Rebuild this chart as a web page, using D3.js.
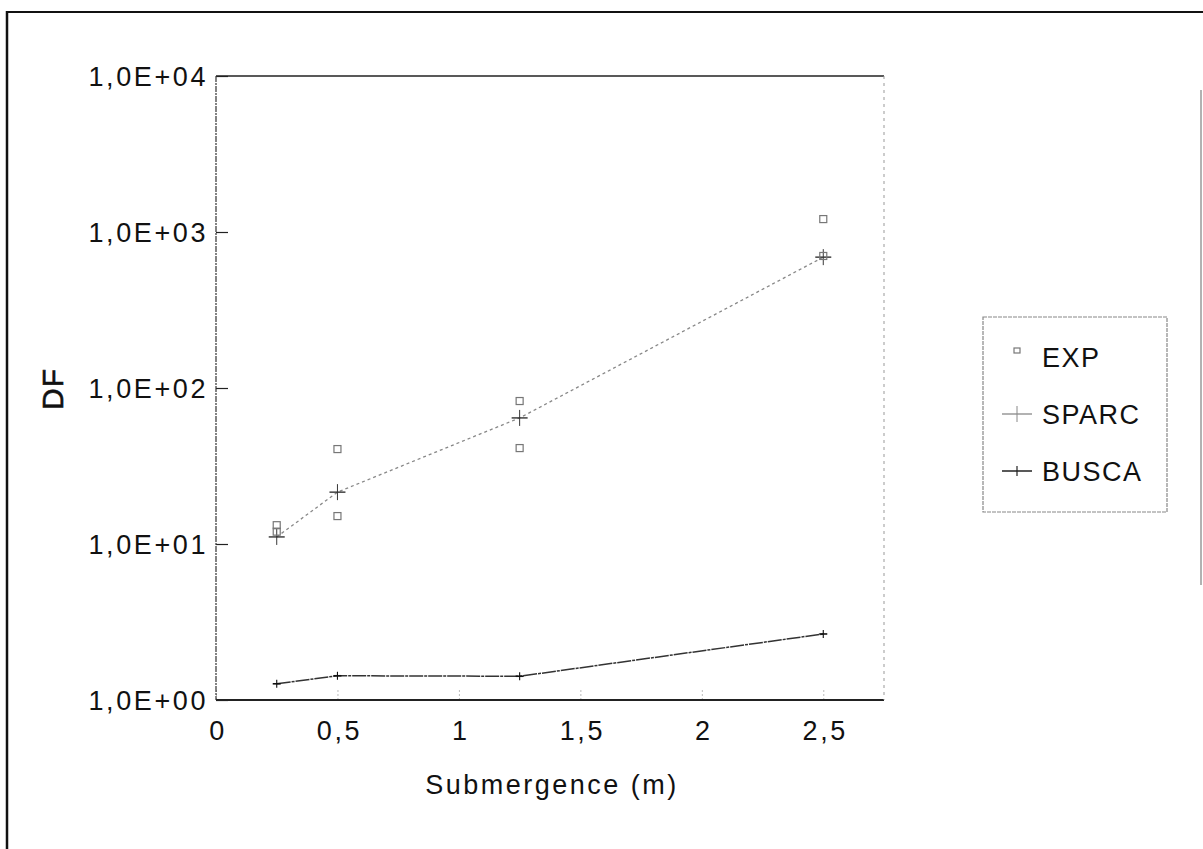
<!DOCTYPE html>
<html>
<head>
<meta charset="utf-8">
<script src="https://cdn.jsdelivr.net/npm/d3@7"></script>
<style>
    body { margin: 0; background: #fff; }
    svg { display: block; font-family: 'Liberation Sans', Arial, sans-serif; }
    .tick-label { font-size: 27px; letter-spacing: 2.6px; fill: #111; }
</style>
</head>
<body>
<svg id="chart"></svg>
<script>
const WIDTH = 1203
const HEIGHT = 849

// x positions (m)
const submergence = [0.25, 0.5, 1.25, 2.5]

// experimental points, two per submergence
const expX = [0.25, 0.25, 0.5, 0.5, 1.25, 1.25, 2.5, 2.5]
const expDF = [13.2, 12.0, 40.6, 15.1, 82.5, 41.2, 1210, 702]

const sparcDF = [11.1, 21.5, 64.3, 690]
const buscaDF = [1.27, 1.43, 1.42, 2.65]

const yTicks = [1, 10, 100, 1000, 10000]
const xTicks = [0, 0.5, 1, 1.5, 2, 2.5]
const seriesNames = ['EXP', 'SPARC', 'BUSCA']

const svg = d3.select('#chart')
    .attr('width', WIDTH)
    .attr('height', HEIGHT)

const x = d3.scaleLinear().domain([0, 2.75]).range([216, 884])
const y = d3.scaleLog().domain([1, 10000]).range([700, 76])

const [plotLeft, plotRight] = x.range()
const [plotBottom, plotTop] = y.range()

// outer frame (only partly visible in the scan)
svg.append('line')
    .attr('x1', 7).attr('x2', 7).attr('y1', 11).attr('y2', HEIGHT)
    .attr('stroke', '#111').attr('stroke-width', 2.5)
svg.append('line')
    .attr('x1', 6).attr('x2', 1203).attr('y1', 12).attr('y2', 12)
    .attr('stroke', '#111').attr('stroke-width', 2)
svg.append('line')
    .attr('x1', 1201).attr('x2', 1201).attr('y1', 90).attr('y2', 585)
    .attr('stroke', '#999').attr('stroke-width', 1.5)

// y axis
const yAxis = d3.axisLeft(y)
    .tickValues(yTicks)
    .tickSize(-12)
    .tickPadding(8)
    .tickFormat(d => `1,0E+${String(Math.round(Math.log10(d))).padStart(2, '0')}`)

const yAxisGroup = svg.append('g')
    .attr('transform', `translate(${plotLeft},0)`)
    .call(yAxis)
yAxisGroup.select('.domain').remove()
yAxisGroup.selectAll('line').attr('stroke', '#222').attr('stroke-width', 1.2)
yAxisGroup.selectAll('text')
    .attr('class', 'tick-label')
    .attr('dy', '0.36em')
    .attr('font-family', null)
    .attr('font-size', null)

// x axis
const xAxis = d3.axisBottom(x)
    .tickValues(xTicks)
    .tickSize(-10)
    .tickPadding(21)
    .tickFormat(d => String(d).replace('.', ','))

const xAxisGroup = svg.append('g')
    .attr('transform', `translate(0,${plotBottom})`)
    .call(xAxis)
xAxisGroup.select('.domain').remove()
xAxisGroup.selectAll('line').attr('stroke', '#bbb').attr('stroke-dasharray', '2,2')
xAxisGroup.selectAll('text')
    .attr('class', 'tick-label')
    .attr('dx', '1.5px')
    .attr('font-family', null)
    .attr('font-size', null)

// plot frame
const frame = svg.append('g').attr('fill', 'none')
frame.append('line')
    .attr('x1', plotLeft).attr('x2', plotRight).attr('y1', plotTop).attr('y2', plotTop)
    .attr('stroke', '#222').attr('stroke-width', 1.5)
frame.append('line')
    .attr('x1', plotLeft).attr('x2', plotRight).attr('y1', plotBottom).attr('y2', plotBottom)
    .attr('stroke', '#222').attr('stroke-width', 1.8)
frame.append('line')
    .attr('x1', plotLeft).attr('x2', plotLeft).attr('y1', plotTop).attr('y2', plotBottom)
    .attr('stroke', '#333').attr('stroke-width', 1.2).attr('stroke-dasharray', '6,1,2,1')
frame.append('line')
    .attr('x1', plotRight).attr('x2', plotRight).attr('y1', plotTop).attr('y2', plotBottom)
    .attr('stroke', '#999').attr('stroke-width', 1).attr('stroke-dasharray', '3,4')

// axis titles
svg.append('text')
    .attr('x', (plotLeft + plotRight) / 2 + 2)
    .attr('y', 794)
    .attr('text-anchor', 'middle')
    .attr('font-size', 27)
    .attr('letter-spacing', 2.5)
    .attr('fill', '#111')
    .text('Submergence (m)')

svg.append('text')
    .attr('transform', `translate(63,${(plotTop + plotBottom) / 2 + 1}) rotate(-90)`)
    .attr('text-anchor', 'middle')
    .attr('font-size', 30)
    .attr('letter-spacing', 1)
    .attr('stroke', '#111')
    .attr('stroke-width', 0.6)
    .attr('fill', '#111')
    .text('DF')

// series lines
const line = d3.line()
    .x(d => x(d[0]))
    .y(d => y(d[1]))

const sparcData = d3.zip(submergence, sparcDF)
const buscaData = d3.zip(submergence, buscaDF)
const expData = d3.zip(expX, expDF)

svg.append('path')
    .datum(sparcData)
    .attr('d', line)
    .attr('fill', 'none')
    .attr('stroke', '#888')
    .attr('stroke-width', 1.3)
    .attr('stroke-dasharray', '3,3')

svg.append('path')
    .datum(buscaData)
    .attr('d', line)
    .attr('fill', 'none')
    .attr('stroke', '#333')
    .attr('stroke-width', 1.5)
    .attr('stroke-dasharray', '14,1,3,1')

function plusMarker(g, cx, cy, w, h, color, width) {
    g.append('line')
        .attr('x1', cx - w / 2).attr('x2', cx + w / 2).attr('y1', cy).attr('y2', cy)
        .attr('stroke', color).attr('stroke-width', width)
    g.append('line')
        .attr('x1', cx).attr('x2', cx).attr('y1', cy - h / 2).attr('y2', cy + h / 2)
        .attr('stroke', color).attr('stroke-width', width * 0.7)
}

const markers = svg.append('g')

sparcData.forEach(d => plusMarker(markers, x(d[0]), y(d[1]), 16, 16, '#333', 1.4))
buscaData.forEach(d => plusMarker(markers, x(d[0]), y(d[1]), 8, 8, '#111', 1.6))

markers.selectAll('rect.exp')
    .data(expData)
    .join('rect')
    .attr('class', 'exp')
    .attr('x', d => x(d[0]) - 3.5)
    .attr('y', d => y(d[1]) - 3.5)
    .attr('width', 7)
    .attr('height', 7)
    .attr('fill', 'none')
    .attr('stroke', '#777')
    .attr('stroke-width', 1.2)

// legend
const legend = svg.append('g').attr('transform', 'translate(983,317)')
legend.append('rect')
    .attr('width', 184)
    .attr('height', 195)
    .attr('fill', 'none')
    .attr('stroke', '#888')
    .attr('stroke-width', 1.2)
    .attr('stroke-dasharray', '4,1')

const legendRows = legend.selectAll('g.row')
    .data(seriesNames)
    .join('g')
    .attr('class', 'row')
    .attr('transform', (d, i) => `translate(0,${50 + i * 57})`)

legendRows.append('text')
    .attr('x', 59)
    .attr('y', 0)
    .attr('font-size', 27)
    .attr('letter-spacing', 1.5)
    .attr('fill', '#111')
    .text(d => d)

legendRows.each(function(d) {
    const row = d3.select(this)
    if (d === 'EXP') {
        row.append('rect')
            .attr('x', 31).attr('y', -19).attr('width', 6).attr('height', 5)
            .attr('fill', 'none').attr('stroke', '#777').attr('stroke-width', 1.2)
    } else if (d === 'SPARC') {
        row.append('line')
            .attr('x1', 19).attr('x2', 49).attr('y1', -10).attr('y2', -10)
            .attr('stroke', '#888').attr('stroke-width', 1.3)
        row.append('line')
            .attr('x1', 34).attr('x2', 34).attr('y1', -18).attr('y2', -2)
            .attr('stroke', '#888').attr('stroke-width', 1)
    } else {
        row.append('line')
            .attr('x1', 19).attr('x2', 49).attr('y1', -10).attr('y2', -10)
            .attr('stroke', '#222').attr('stroke-width', 1.5)
        row.append('line')
            .attr('x1', 34).attr('x2', 34).attr('y1', -15).attr('y2', -5)
            .attr('stroke', '#222').attr('stroke-width', 1.2)
    }
})
</script>
</body>
</html>
